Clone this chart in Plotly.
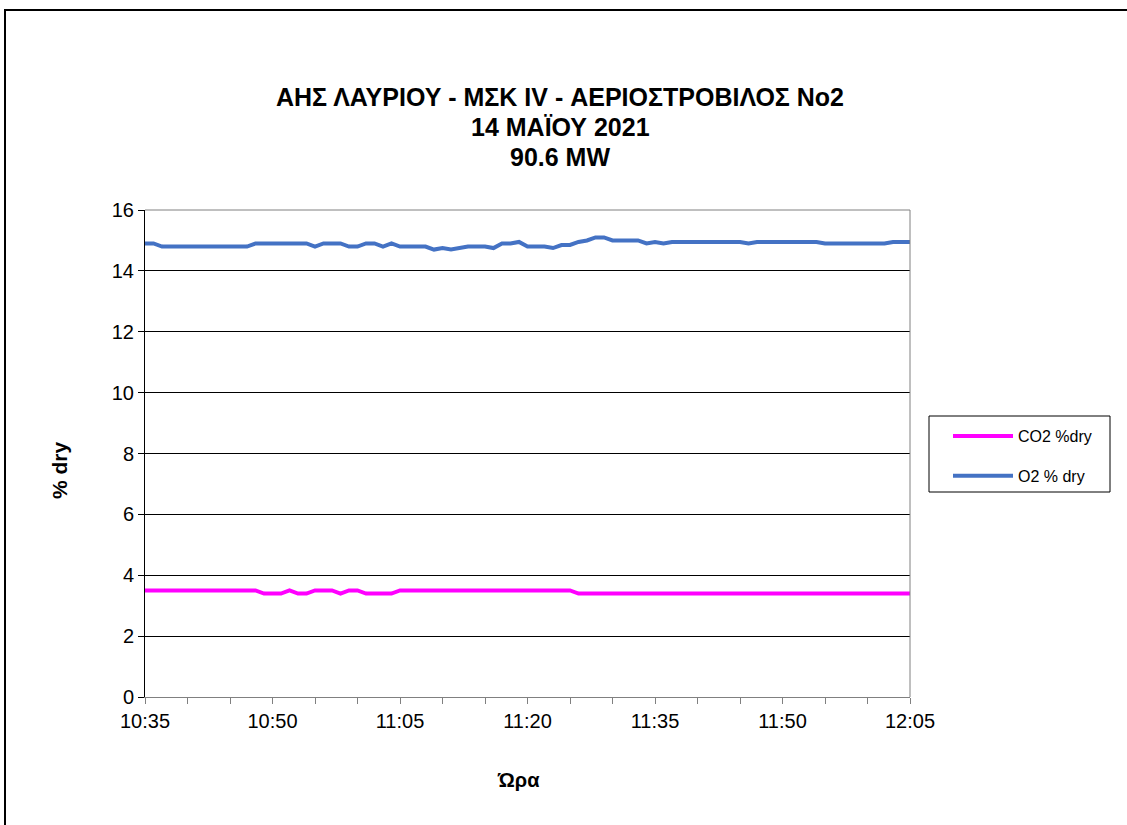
import plotly.graph_objects as go

# Sampling times, one reading per minute from 10:35 to 12:05
start_h, start_m = 10, 35
n_points = 91
minutes = list(range(n_points))
time_labels = [f"{(start_h * 60 + start_m + m) // 60}:{(start_h * 60 + start_m + m) % 60:02d}" for m in minutes]

# O2 % dry readings
o2_dry = [
    14.9, 14.9, 14.8, 14.8, 14.8, 14.8, 14.8, 14.8, 14.8, 14.8,
    14.8, 14.8, 14.8, 14.9, 14.9, 14.9, 14.9, 14.9, 14.9, 14.9,
    14.8, 14.9, 14.9, 14.9, 14.8, 14.8, 14.9, 14.9, 14.8, 14.9,
    14.8, 14.8, 14.8, 14.8, 14.7, 14.75, 14.7, 14.75, 14.8, 14.8,
    14.8, 14.75, 14.9, 14.9, 14.95, 14.8, 14.8, 14.8, 14.75, 14.85,
    14.85, 14.95, 15.0, 15.1, 15.1, 15.0, 15.0, 15.0, 15.0, 14.9,
    14.95, 14.9, 14.95, 14.95, 14.95, 14.95, 14.95, 14.95, 14.95, 14.95,
    14.95, 14.9, 14.95, 14.95, 14.95, 14.95, 14.95, 14.95, 14.95, 14.95,
    14.9, 14.9, 14.9, 14.9, 14.9, 14.9, 14.9, 14.9, 14.95, 14.95,
    14.95,
]

# CO2 % dry readings
co2_dry = [
    3.5, 3.5, 3.5, 3.5, 3.5, 3.5, 3.5, 3.5, 3.5, 3.5,
    3.5, 3.5, 3.5, 3.5, 3.4, 3.4, 3.4, 3.5, 3.4, 3.4,
    3.5, 3.5, 3.5, 3.4, 3.5, 3.5, 3.4, 3.4, 3.4, 3.4,
    3.5, 3.5, 3.5, 3.5, 3.5, 3.5, 3.5, 3.5, 3.5, 3.5,
    3.5, 3.5, 3.5, 3.5, 3.5, 3.5, 3.5, 3.5, 3.5, 3.5,
    3.5, 3.4, 3.4, 3.4, 3.4, 3.4, 3.4, 3.4, 3.4, 3.4,
    3.4, 3.4, 3.4, 3.4, 3.4, 3.4, 3.4, 3.4, 3.4, 3.4,
    3.4, 3.4, 3.4, 3.4, 3.4, 3.4, 3.4, 3.4, 3.4, 3.4,
    3.4, 3.4, 3.4, 3.4, 3.4, 3.4, 3.4, 3.4, 3.4, 3.4,
    3.4,
]

x_tick_vals = [0, 15, 30, 45, 60, 75, 90]
x_tick_text = [time_labels[v] for v in x_tick_vals]
y_tick_vals = [0, 2, 4, 6, 8, 10, 12, 14, 16]

title_lines = ["ΑΗΣ ΛΑΥΡΙΟΥ - ΜΣΚ IV - ΑΕΡΙΟΣΤΡΟΒΙΛΟΣ Νο2", "14 ΜΑΪΟΥ 2021", "90.6 MW"]
x_title = "Ώρα"
y_title = "% dry"

FONT = "Arial, 'Liberation Sans', sans-serif"

W, H = 1127, 825
L, R, T, B = 145, 910, 210, 697   # plot area in pixels


def px(x):
    return (x - L) / (R - L)


def py(y):
    return (B - y) / (B - T)


fig = go.Figure()
fig.add_trace(go.Scatter(
    x=minutes, y=co2_dry, mode="lines", name="CO2 %dry",
    line=dict(color="#FF00FF", width=4), legendgroup="co2",
))
fig.add_trace(go.Scatter(
    x=minutes, y=o2_dry, mode="lines", name="O2 % dry",
    line=dict(color="#4472C4", width=4), legendgroup="o2",
))

annotations = []
# three-line bold title, one annotation per line for exact spacing
for line, yc in zip(title_lines, [97, 127, 157]):
    annotations.append(dict(
        text=f"<b>{line}</b>", x=px(560), y=py(yc), xref="paper", yref="paper",
        xanchor="center", yanchor="middle", showarrow=False,
        font=dict(family=FONT, size=25, color="black"),
    ))
annotations.append(dict(
    text=f"<b>{x_title}</b>", x=px(518), y=py(780), xref="paper", yref="paper",
    xanchor="center", yanchor="middle", showarrow=False,
    font=dict(family=FONT, size=20, color="black"),
))
annotations.append(dict(
    text=f"<b>{y_title}</b>", x=px(60), y=py(470), xref="paper", yref="paper",
    xanchor="center", yanchor="middle", showarrow=False, textangle=-90,
    font=dict(family=FONT, size=21, color="black"),
))

fig.update_layout(
    width=W, height=H,
    margin=dict(l=L, r=W - R, t=T, b=H - B, pad=0),
    paper_bgcolor="white", plot_bgcolor="white",
    font=dict(family=FONT, color="black", size=20),
    showlegend=True,
    legend=dict(
        x=px(948), y=py(419), xanchor="left", yanchor="top",
        font=dict(family=FONT, size=16, color="black"),
        bgcolor="rgba(0,0,0,0)", borderwidth=0,
        tracegroupgap=16, itemwidth=60,
    ),
    xaxis=dict(
        range=[0, 90], tickmode="array", tickvals=x_tick_vals, ticktext=x_tick_text,
        showgrid=False, zeroline=False,
        showline=True, linecolor="#808080", linewidth=1,
        ticks="outside", ticklen=6, tickcolor="#808080",
        minor=dict(dtick=5, tick0=0, ticks="outside", ticklen=6, tickcolor="#808080", showgrid=False),
        tickfont=dict(size=20, family=FONT),
    ),
    yaxis=dict(
        range=[0, 16], tickmode="array", tickvals=y_tick_vals,
        showgrid=True, gridcolor="black", gridwidth=1, zeroline=False,
        showline=True, linecolor="black", linewidth=1,
        ticks="outside", ticklen=6, tickcolor="black",
        tickfont=dict(size=20, family=FONT),
    ),
    annotations=annotations,
    shapes=[
        # chart frame
        dict(type="rect", xref="paper", yref="paper",
             x0=px(5), y0=py(835), x1=px(1140), y1=py(10),
             line=dict(color="black", width=2), fillcolor="rgba(0,0,0,0)", layer="below"),
        # plot area border (top and right)
        dict(type="line", xref="paper", yref="paper", x0=0, y0=1, x1=1, y1=1,
             line=dict(color="#808080", width=1)),
        dict(type="line", xref="paper", yref="paper", x0=1, y0=0, x1=1, y1=1,
             line=dict(color="#808080", width=1)),
        # legend box
        dict(type="rect", xref="paper", yref="paper",
             x0=px(929), y0=py(492), x1=px(1110), y1=py(416),
             line=dict(color="black", width=1), fillcolor="rgba(0,0,0,0)"),
    ],
)

fig.write_html("out.html")
